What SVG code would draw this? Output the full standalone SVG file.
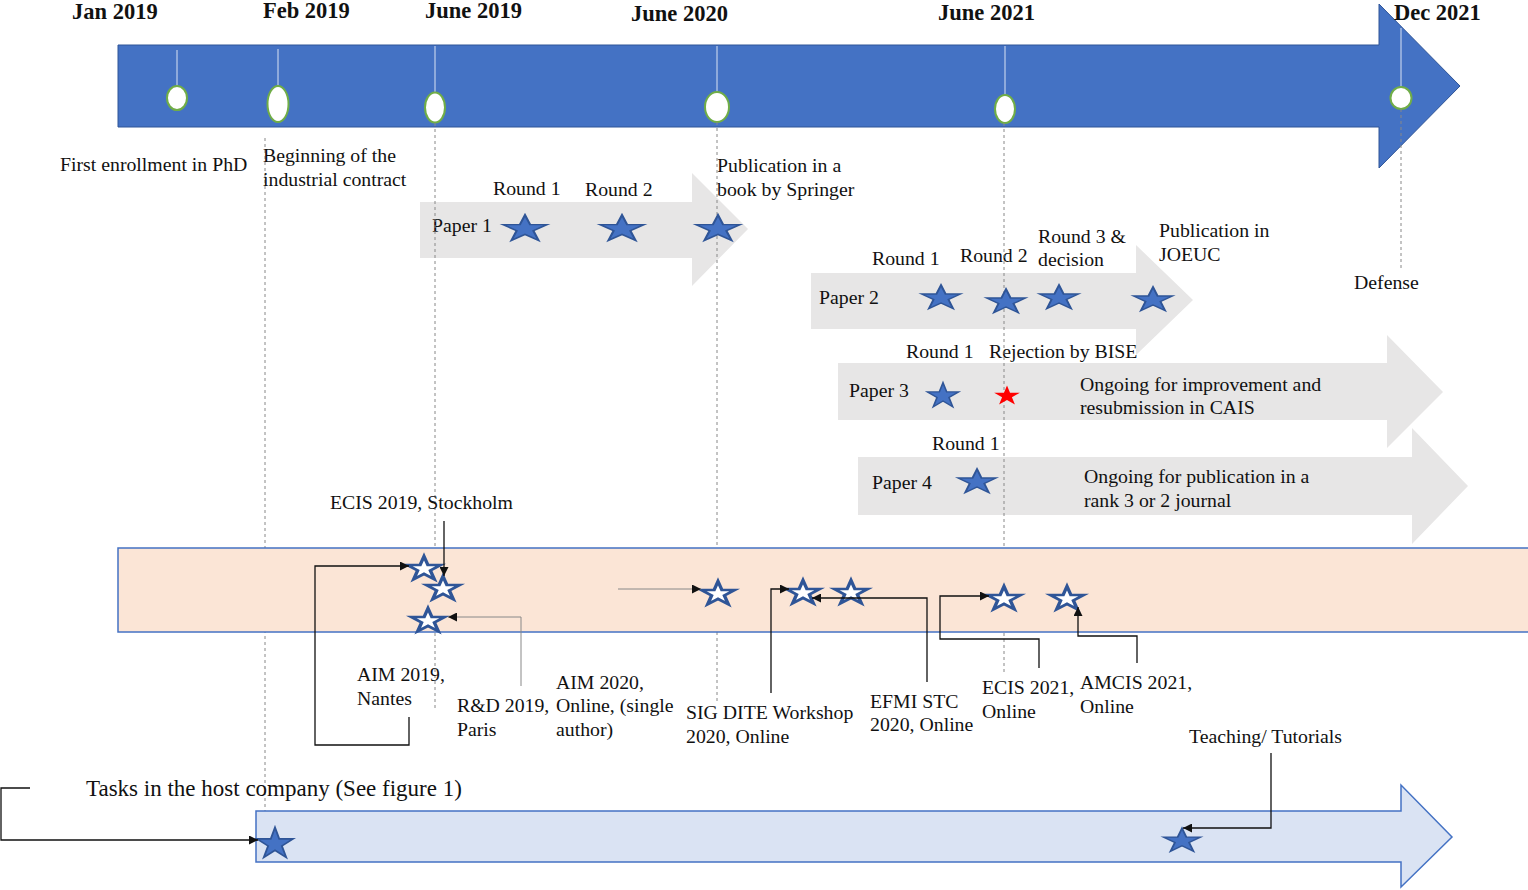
<svg xmlns="http://www.w3.org/2000/svg" width="1528" height="890" viewBox="0 0 1528 890">
<style>
text{font-family:"Liberation Serif","Times New Roman",serif;font-size:19.8px;fill:#111}
.date{font-weight:bold;font-size:22.5px}
.big{font-size:23px}
.grayarrow{fill:#E7E6E6}
.dash{stroke:#888;stroke-width:1;stroke-dasharray:3,3;fill:none}
.tick{stroke:#fff;stroke-width:1;opacity:0.8}
.ell{fill:#fff;stroke:#70AD47;stroke-width:2}
.bstar{fill:#4472C4;stroke:#2F5597;stroke-width:1;vector-effect:non-scaling-stroke}
.wstar{fill:#fff;stroke:#2F5597;stroke-width:2;vector-effect:non-scaling-stroke}
.rstar{fill:#FF0000}
.conn{fill:none;stroke:#111;stroke-width:1.3}
.connl{fill:none;stroke:#888;stroke-width:1}
</style>
<defs>
<path id="star" d="M0,-10 L2.245,-3.09 L9.511,-3.09 L3.633,1.18 L5.878,8.09 L0,3.82 L-5.878,8.09 L-3.633,1.18 L-9.511,-3.09 L-2.245,-3.09 Z"/>
<marker id="ah" viewBox="0 0 10 10" refX="10" refY="5" markerWidth="9" markerHeight="9" markerUnits="userSpaceOnUse" orient="auto">
<path d="M0,0 L10,5 L0,10 Z" fill="#111"/>
</marker>
</defs>

<g id="main-timeline">
<path d="M118,45 L1379,45 L1379,4 L1460,86 L1379,168 L1379,127 L118,127 Z" fill="#4472C4" stroke="#2F5597" stroke-width="1"/>
<line class="tick" x1="177" y1="50" x2="177" y2="86"/>
<line class="tick" x1="278" y1="49" x2="278" y2="85"/>
<line class="tick" x1="435" y1="46" x2="435" y2="92"/>
<line class="tick" x1="717" y1="46" x2="717" y2="92"/>
<line class="tick" x1="1005" y1="46" x2="1005" y2="95"/>
<line class="tick" x1="1401" y1="28" x2="1401" y2="87"/>
<ellipse class="ell" cx="177" cy="98" rx="10" ry="12"/>
<ellipse class="ell" cx="278" cy="104" rx="10.5" ry="18"/>
<ellipse class="ell" cx="435" cy="107.5" rx="10" ry="15"/>
<ellipse class="ell" cx="717" cy="107" rx="12" ry="15"/>
<ellipse class="ell" cx="1005" cy="109" rx="10" ry="14"/>
<ellipse class="ell" cx="1401" cy="98" rx="10.5" ry="11"/>
</g>

<g id="dates">
<text class="date" x="72" y="19">Jan 2019</text>
<text class="date" x="263" y="18">Feb 2019</text>
<text class="date" x="425" y="18">June 2019</text>
<text class="date" x="631" y="21">June 2020</text>
<text class="date" x="938" y="20">June 2021</text>
<text class="date" x="1394" y="20">Dec 2021</text>
</g>

<g id="paper1">
<path class="grayarrow" d="M420,202 L692,202 L692,173 L748,229 L692,286 L692,258 L420,258 Z"/>
<text x="432" y="232">Paper 1</text>
<text x="493" y="195">Round 1</text>
<text x="585" y="196">Round 2</text>
<text x="717" y="172">Publication in a</text>
<text x="717" y="196">book by Springer</text>
</g>

<g id="paper2">
<path class="grayarrow" d="M811,273 L1136,273 L1136,245 L1193,300 L1136,355 L1136,329 L811,329 Z"/>
<text x="819" y="304">Paper 2</text>
<text x="872" y="265">Round 1</text>
<text x="960" y="262">Round 2</text>
<text x="1038" y="243">Round 3 &amp;</text>
<text x="1038" y="266">decision</text>
<text x="1159" y="237">Publication in</text>
<text x="1159" y="261">JOEUC</text>
</g>

<g id="paper3">
<path class="grayarrow" d="M838,363 L1387,363 L1387,335 L1443,392 L1387,448 L1387,420 L838,420 Z"/>
<text x="849" y="397">Paper 3</text>
<text x="906" y="358">Round 1</text>
<text x="989" y="358">Rejection by BISE</text>
<text x="1080" y="391">Ongoing for improvement and</text>
<text x="1080" y="414">resubmission in CAIS</text>
</g>

<g id="paper4">
<path class="grayarrow" d="M858,457 L1412,457 L1412,428 L1468,486 L1412,544 L1412,515 L858,515 Z"/>
<text x="872" y="489">Paper 4</text>
<text x="932" y="450">Round 1</text>
<text x="1084" y="483">Ongoing for publication in a</text>
<text x="1084" y="507">rank 3 or 2 journal</text>
</g>

<g id="guides">
<line class="dash" x1="265" y1="138" x2="265" y2="811"/>
<line class="dash" x1="435" y1="123" x2="435" y2="710"/>
<line class="dash" x1="717" y1="122" x2="717" y2="703"/>
<line class="dash" x1="1004" y1="123" x2="1004" y2="675"/>
<line class="dash" x1="1401" y1="109" x2="1401" y2="270"/>
</g>

<g id="defense">
<text x="1354" y="289">Defense</text>
</g>

<g id="paper-stars">
<use href="#star" class="bstar" transform="translate(525,229) scale(2.3,1.4)"/>
<use href="#star" class="bstar" transform="translate(622,229) scale(2.3,1.4)"/>
<use href="#star" class="bstar" transform="translate(718,229) scale(2.3,1.4)"/>
<use href="#star" class="bstar" transform="translate(941,298) scale(2.05,1.3)"/>
<use href="#star" class="bstar" transform="translate(1006,302) scale(2.05,1.3)"/>
<use href="#star" class="bstar" transform="translate(1059,298) scale(2.05,1.3)"/>
<use href="#star" class="bstar" transform="translate(1153,300) scale(2.05,1.3)"/>
<use href="#star" class="bstar" transform="translate(943,396) scale(1.65,1.33)"/>
<use href="#star" class="rstar" transform="translate(1007,396) scale(1.35,1.05)"/>
<use href="#star" class="bstar" transform="translate(977,482) scale(2.0,1.3)"/>
</g>

<g id="conference-band">
<rect x="118" y="548" width="1420" height="84" fill="#FBE5D6" stroke="#4472C4" stroke-width="1.5"/>
</g>

<g id="conference-stars">
<use href="#star" class="wstar" transform="translate(424,569) scale(1.75,1.27)"/>
<use href="#star" class="wstar" transform="translate(443,589) scale(1.75,1.27)"/>
<use href="#star" class="wstar" transform="translate(428,621) scale(1.75,1.27)"/>
<use href="#star" class="wstar" transform="translate(718,594) scale(1.75,1.27)"/>
<use href="#star" class="wstar" transform="translate(803,593) scale(1.75,1.27)"/>
<use href="#star" class="wstar" transform="translate(851,593) scale(1.75,1.27)"/>
<use href="#star" class="wstar" transform="translate(1004,599) scale(1.75,1.27)"/>
<use href="#star" class="wstar" transform="translate(1067,599) scale(1.75,1.27)"/>
</g>

<g id="host-company">
<path d="M256,811 L1401,811 L1401,785 L1452,837 L1401,887 L1401,862 L256,862 Z" fill="#DAE3F3" stroke="#4472C4" stroke-width="1.5"/>
<use href="#star" class="bstar" transform="translate(275,844) scale(1.9,1.65)"/>
<use href="#star" class="bstar" transform="translate(1182,841) scale(1.95,1.27)"/>
<text class="big" x="86" y="796">Tasks in the host company (See figure 1)</text>
</g>

<g id="connectors">
<path class="conn" d="M444,521 L444,576" marker-end="url(#ah)"/>
<path class="conn" d="M409,717 L409,745 L315,745 L315,566 L409,566" marker-end="url(#ah)"/>
<path class="connl" d="M521,686 L521,617 L448,617" marker-end="url(#ah)"/>
<path class="connl" d="M618,589 L701,589" marker-end="url(#ah)"/>
<path class="conn" d="M771,693 L771,589 L789,589" marker-end="url(#ah)"/>
<path class="conn" d="M927,682 L927,598 L812,598" marker-end="url(#ah)"/>
<path class="conn" d="M1039,668 L1039,639 L940,639 L940,596 L989,596" marker-end="url(#ah)"/>
<path class="conn" d="M1137,663 L1137,636 L1078,636 L1078,607" marker-end="url(#ah)"/>
<path class="conn" d="M1271,753 L1271,828 L1183,828" marker-end="url(#ah)"/>
<path class="conn" d="M30,788 L1,788 L1,840 L258,840" marker-end="url(#ah)"/>
</g>

<g id="labels">
<text x="60" y="171">First enrollment in PhD</text>
<text x="263" y="162">Beginning of the</text>
<text x="263" y="186">industrial contract</text>
<text x="330" y="509">ECIS 2019, Stockholm</text>
<text x="357" y="681">AIM 2019,</text>
<text x="357" y="705">Nantes</text>
<text x="457" y="712">R&amp;D 2019,</text>
<text x="457" y="736">Paris</text>
<text x="556" y="689">AIM 2020,</text>
<text x="556" y="712">Online, (single</text>
<text x="556" y="736">author)</text>
<text x="686" y="719">SIG DITE Workshop</text>
<text x="686" y="743">2020, Online</text>
<text x="870" y="708">EFMI STC</text>
<text x="870" y="731">2020, Online</text>
<text x="982" y="694">ECIS 2021,</text>
<text x="982" y="718">Online</text>
<text x="1080" y="689">AMCIS 2021,</text>
<text x="1080" y="713">Online</text>
<text x="1189" y="743">Teaching/ Tutorials</text>
</g>
</svg>
